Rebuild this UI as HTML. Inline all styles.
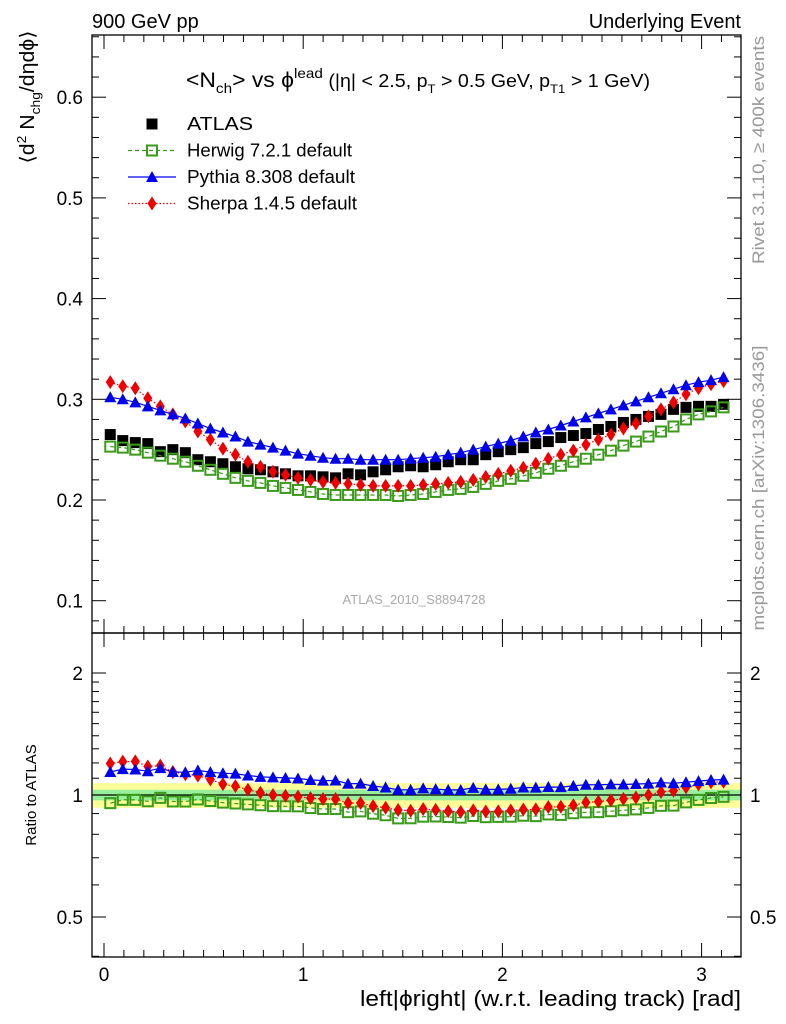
<!DOCTYPE html>
<html><head><meta charset="utf-8"><style>
html,body{margin:0;padding:0;background:#fff;}
svg{display:block;font-family:"Liberation Sans",sans-serif;}
</style></head><body>
<svg id="chart" width="786" height="1024" viewBox="0 0 786 1024" xmlns="http://www.w3.org/2000/svg">
<text x="92" y="28" font-size="20">900 GeV pp</text>
<text x="741" y="28" font-size="20" text-anchor="end">Underlying Event</text>
<text transform="translate(764,150) rotate(-90)" font-size="17" fill="#999" text-anchor="middle" textLength="228" lengthAdjust="spacingAndGlyphs">Rivet 3.1.10, ≥ 400k events</text>
<text transform="translate(764,488) rotate(-90)" font-size="17" fill="#999" text-anchor="middle" textLength="285" lengthAdjust="spacingAndGlyphs">mcplots.cern.ch [arXiv:1306.3436]</text>
<text transform="translate(34,97) rotate(-90)" font-size="20" text-anchor="middle" textLength="133" lengthAdjust="spacingAndGlyphs">⟨d<tspan font-size="13" dy="-8">2</tspan><tspan dy="8"> N</tspan><tspan font-size="13" dy="6">chg</tspan><tspan dy="-6">/dηdϕ⟩</tspan></text>
<text transform="translate(36,795) rotate(-90)" font-size="15" text-anchor="middle">Ratio to ATLAS</text>
<text x="741" y="1006" font-size="22" text-anchor="end" textLength="381" lengthAdjust="spacingAndGlyphs">left|ϕright| (w.r.t. leading track) [rad]</text>
<text x="186" y="87" font-size="21" textLength="464" lengthAdjust="spacingAndGlyphs">&lt;N<tspan font-size="14" dy="6">ch</tspan><tspan dy="-6">&gt; vs ϕ</tspan><tspan font-size="14" dy="-9">lead</tspan><tspan font-size="18" dy="9"> (|η| &lt; 2.5, p</tspan><tspan font-size="12" dy="6">T</tspan><tspan font-size="18" dy="-6"> &gt; 0.5 GeV, p</tspan><tspan font-size="12" dy="6">T1</tspan><tspan font-size="18" dy="-6"> &gt; 1 GeV)</tspan></text>
<text x="414" y="604" font-size="13" fill="#aaa" text-anchor="middle">ATLAS_2010_S8894728</text>
<g id="legend"></g>
<g id="main"></g><g id="ratio"></g><g id="axes"></g>
</svg>
<script>
const xs = [];
const atlas = [.265,.259,.257,.256,.248,.250,.247,.240,.238,.236,.233,.231,.230,.228,.226,.224,.224,.223,.222,.226,.225,.228,.230,.233,.234,.233,.235,.238,.240,.240,.245,.248,.250,.252,.256,.258,.262,.264,.266,.270,.273,.277,.280,.283,.285,.290,.292,.293,.293,.295];
const herwig = [.253,.252,.250,.247,.244,.241,.238,.234,.230,.226,.222,.219,.217,.214,.212,.210,.208,.206,.205,.205,.205,.205,.205,.204,.205,.206,.208,.210,.211,.213,.216,.219,.221,.224,.227,.231,.234,.238,.241,.245,.249,.254,.258,.263,.268,.273,.280,.285,.288,.292];
const pythia = [.302,.300,.297,.293,.289,.285,.281,.276,.271,.267,.263,.258,.255,.252,.249,.246,.244,.242,.241,.241,.240,.240,.240,.240,.241,.242,.243,.245,.247,.250,.253,.256,.259,.263,.267,.270,.274,.278,.282,.286,.290,.294,.298,.302,.306,.310,.314,.317,.319,.322];
const sherpa = [.317,.313,.311,.301,.293,.285,.278,.268,.260,.251,.245,.238,.233,.228,.225,.222,.220,.218,.217,.216,.215,.214,.214,.214,.214,.215,.216,.217,.218,.220,.223,.226,.229,.232,.236,.241,.245,.249,.255,.260,.265,.271,.276,.283,.290,.297,.305,.311,.315,.318];
const statErr = 0.03;
const totErr = 0.07;
const xTicks = [0,1,2,3];
const yTicks = [0.1,0.2,0.3,0.4,0.5,0.6];
const rTicks = [0.5,1,2];
for (let i=0;i<50;i++) xs.push((i+0.5)*Math.PI/50);

const NS="http://www.w3.org/2000/svg";
const L=92,R=741,MT=35,MB=633,RB=957;
const X=v=>104+v*199.2;
const Y=v=>500-(v-0.2)*1007;
const RY=v=>795-Math.log2(v)*122;
function mk(tag,attrs,parent){const e=document.createElementNS(NS,tag);for(const k in attrs)e.setAttribute(k,attrs[k]);parent.appendChild(e);return e;}
const main=document.getElementById('main'),ratio=document.getElementById('ratio'),axes=document.getElementById('axes'),leg=document.getElementById('legend');

const bY=mk('path',{d:`M${L+1},${RY(1+totErr)}H${R}V${RY(1-totErr)}H${L+1}Z`,fill:'#ffff99'},ratio);


const bG=mk('path',{d:`M${L+1},${RY(1+statErr)}H${R}V${RY(1-statErr)}H${L+1}Z`,fill:'#99ee99'},ratio);


const one=mk('line',{x1:L,x2:R,y1:RY(1),y2:RY(1),stroke:'#000','stroke-width':1.3},ratio);



function marker(kind,cx,cy,g){
  let e;
  if(kind==='sq') e=mk('rect',{x:cx-5.5,y:cy-5.5,width:11,height:11,fill:'#000'},g);
  else if(kind==='osq'){e=mk('rect',{x:cx-5,y:cy-5,width:10,height:10,fill:'none',stroke:'#3a9a1a','stroke-width':2},g);}
  else if(kind==='tri') e=mk('path',{d:`M${cx},${cy-6}L${cx+6},${cy+5}L${cx-6},${cy+5}Z`,fill:'#0000ee'},g);
  else e=mk('path',{d:`M${cx},${cy-7}L${cx+4.5},${cy}L${cx},${cy+7}L${cx-4.5},${cy}Z`,fill:'#ee0000'},g);
  return e;
}
const series=[
 {name:'herwig',vals:herwig,kind:'osq',color:'#3a9a1a',dash:'4,3'},
 {name:'sherpa',vals:sherpa,kind:'dia',color:'#ee0000',dash:'1.5,2'},
 {name:'pythia',vals:pythia,kind:'tri',color:'#0000ee',dash:''},
];
for(const s of series){
  for(const panel of [main,ratio]){
    const fy=panel===main?Y:RY;
    const g=mk('g',{},panel);
    
    
    const pts=xs.map((x,i)=>[X(x),fy(panel===main?s.vals[i]:s.vals[i]/atlas[i])]);
    const ln=mk('path',{d:'M'+pts.map(p=>p[0].toFixed(1)+','+p[1].toFixed(1)).join('L'),fill:'none',stroke:s.color,'stroke-width':1.2,'stroke-dasharray':s.dash},g);
    
    
    pts.forEach(p=>{const m=marker(s.kind,p[0],p[1],g);
      
      });
  }
}
const ga=mk('g',{},main);


xs.forEach((x,i)=>{const m=marker('sq',X(x),Y(atlas[i]),ga);
  
  });
main.insertBefore(ga,main.firstChild);

for(const [t,b,nm] of [[MT,MB,'main-frame'],[MB,RB,'ratio-frame']]){
  const f=mk('rect',{x:L,y:t,width:R-L,height:b-t,fill:'none',stroke:'#000','stroke-width':1.3},axes);
  
  
}
function tick(x1,y1,x2,y2){mk('line',{x1,y1,x2,y2,stroke:'#000','stroke-width':1},axes);}
for(let v=0;v<=3.15;v+=0.1){const major=Math.abs(v-Math.round(v))<1e-6;const len=major?14:7;
  for(const [t,b] of [[MT,MB],[MB,RB]]){tick(X(v),b,X(v),b-len);tick(X(v),t,X(v),t+len);}}
xTicks.forEach(v=>{const t=mk('text',{x:X(v),y:981,'font-size':19,'text-anchor':'middle'},axes);t.textContent=v;
  });
for(let k=4;k<=33;k++){const v=k*0.02;if(Y(v)<MT||Y(v)>MB)continue;const major=k%5===0;const len=major?14:7;
  tick(L,Y(v),L+len,Y(v));tick(R,Y(v),R-len,Y(v));}
yTicks.forEach(v=>{const t=mk('text',{x:L-9,y:Y(v)+7,'font-size':19,'text-anchor':'end'},axes);t.textContent=v.toFixed(1);
  });
[0.4,0.5,0.6,0.7,0.8,0.9,1,2].forEach(v=>{if(RY(v)>RB)return;const major=rTicks.includes(v);const len=major?14:7;
  tick(L,RY(v),L+len,RY(v));tick(R,RY(v),R-len,RY(v));});
[1.1,1.2,1.3,1.4,1.5,1.6,1.7,1.8,1.9,3].forEach(v=>{if(RY(v)<MB)return;tick(L,RY(v),L+7,RY(v));tick(R,RY(v),R-7,RY(v));});
rTicks.forEach(v=>{for(const [x,a] of [[L-9,'end'],[R+9,'start']]){const t=mk('text',{x,y:RY(v)+7,'font-size':19,'text-anchor':a},axes);t.textContent=v;
  }});

const entries=[['ATLAS','sq','#000',null,66],['Herwig 7.2.1 default','osq','#3a9a1a','4,3',165],['Pythia 8.308 default','tri','#0000ee','',168],['Sherpa 1.4.5 default','dia','#ee0000','1.5,2',170]];
entries.forEach((e,i)=>{const y=124+i*26.5;const g=mk('g',{},leg);
  
  
  if(e[3]!==null)mk('line',{x1:128,x2:176,y1:y,y2:y,stroke:e[2],'stroke-width':1.2,'stroke-dasharray':e[3]},g);
  marker(e[1],152,y,g);
  const t=mk('text',{x:187,y:y+6,'font-size':18,textLength:e[4],lengthAdjust:'spacingAndGlyphs'},g);t.textContent=e[0];});
</script>
</body></html>
